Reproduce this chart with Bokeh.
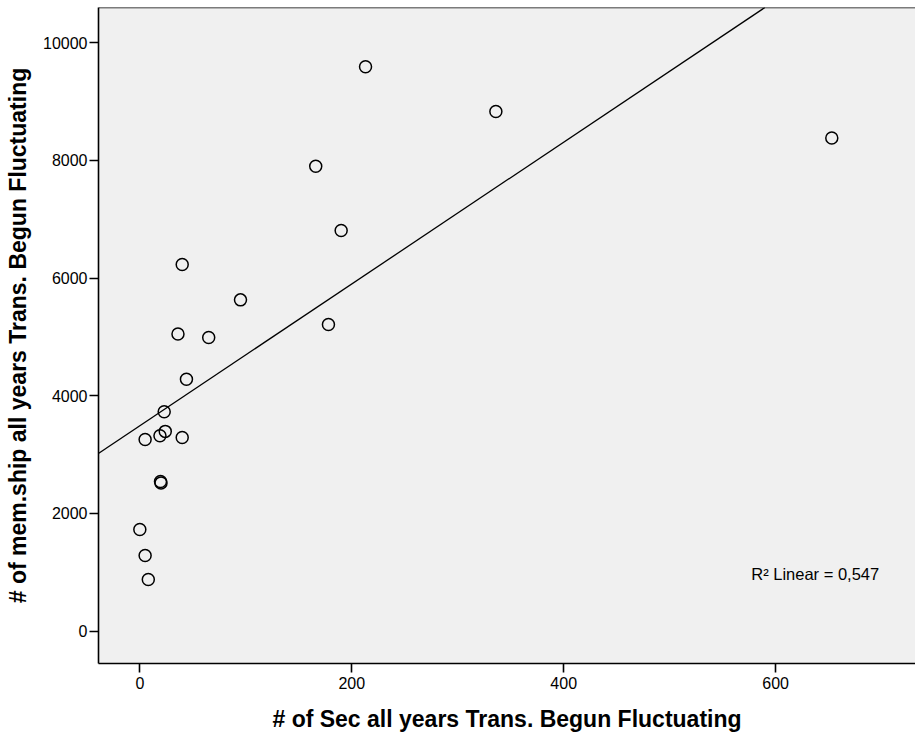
from bokeh.plotting import figure
from bokeh.models import Range1d, FixedTicker, Span, Slope, Label, ColumnDataSource
from bokeh.embed import file_html
from bokeh.resources import INLINE

# Data
sec_trans = [0, 5, 8, 5, 19, 24, 23, 19.5, 20, 40, 44, 36, 40, 65, 95,
             166, 190, 178, 213, 336, 653]
membership = [1728, 1286, 878, 3258, 3320, 3395, 3730, 2545, 2520, 3290,
              4280, 5050, 6230, 4990, 5630, 7900, 6810, 5210, 9590, 8830, 8380]

# Linear fit shown on the chart
fit_intercept = 3490
fit_slope = 12.05
r2_text = "R\u00b2 Linear = 0,547"

x_ticks = [0, 200, 400, 600]
y_ticks = [0, 2000, 4000, 6000, 8000, 10000]

x_label = "# of Sec all years Trans. Begun Fluctuating"
y_label = "# of mem.ship all years Trans. Begun Fluctuating"

FONT = "Liberation Sans"

p = figure(width=915, height=740, output_backend="svg", toolbar_location=None,
           x_range=Range1d(-39, 732), y_range=Range1d(-549, 10598),
           min_border_left=98, min_border_top=7, min_border_bottom=77,
           min_border_right=0)

p.background_fill_color = "#F0F0F0"
p.border_fill_color = "white"
p.outline_line_color = None
p.xgrid.visible = False
p.ygrid.visible = False

for ax, ticks in ((p.xaxis[0], x_ticks), (p.yaxis[0], y_ticks)):
    ax.ticker = FixedTicker(ticks=ticks)
    ax.axis_line_color = "black"
    ax.axis_line_width = 1.6
    ax.major_tick_line_color = "black"
    ax.major_tick_line_width = 1.6
    ax.major_tick_out = 9
    ax.major_tick_in = 0
    ax.minor_tick_line_color = None
    ax.major_label_text_font = FONT
    ax.major_label_text_font_size = "16px"
    ax.major_label_text_color = "black"
    ax.axis_label_text_font = FONT
    ax.axis_label_text_font_size = "23px"
    ax.axis_label_text_font_style = "bold"
    ax.axis_label_text_color = "black"

p.xaxis[0].axis_label = x_label
p.yaxis[0].axis_label = y_label
p.xaxis[0].major_label_standoff = 4
p.yaxis[0].major_label_standoff = 2
p.xaxis[0].axis_label_standoff = 14
p.yaxis[0].axis_label_standoff = 9

# top border of the frame
p.add_layout(Span(location=p.y_range.end, dimension="width",
                  line_color="black", line_width=1.6))

# regression line
p.add_layout(Slope(gradient=fit_slope, y_intercept=fit_intercept,
                   line_color="black", line_width=1.3))

src = ColumnDataSource(dict(x=sec_trans, y=membership))
p.scatter("x", "y", source=src, size=12, marker="circle",
          fill_color=None, line_color="black", line_width=1.5)

p.add_layout(Label(x=577, y=980, text=r2_text, text_font=FONT,
                   text_font_size="16.5px", text_color="black",
                   text_baseline="middle", text_align="left"))

open("out.html", "w").write(file_html(p, INLINE))
